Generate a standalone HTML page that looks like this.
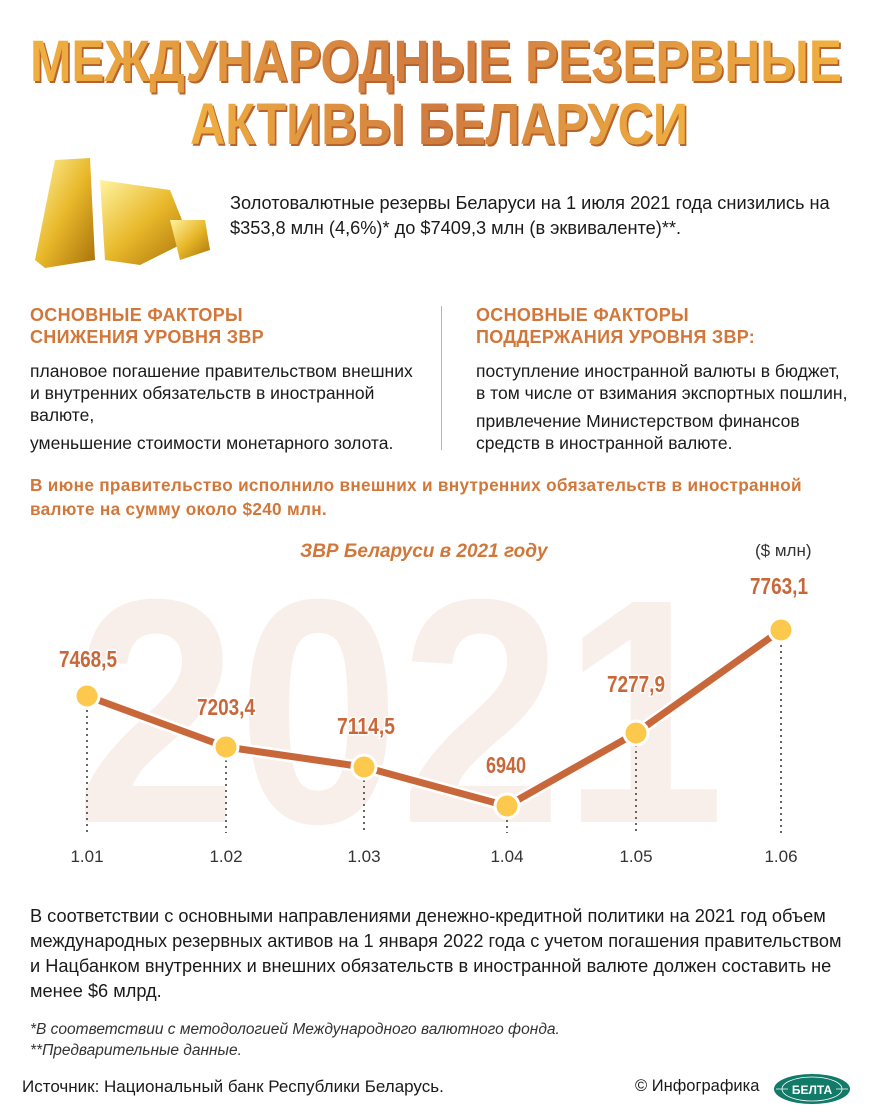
<!DOCTYPE html>
<html><head><meta charset="utf-8"><style>
*{margin:0;padding:0;box-sizing:border-box}
body{width:870px;height:1119px;background:#fff;position:relative;overflow:hidden;font-family:"Liberation Sans",sans-serif;color:#1a1a1a}
.a{position:absolute;white-space:nowrap}
.h{font-weight:bold;color:#d2773a;font-size:18px;line-height:22px;letter-spacing:0.3px}
.t{font-size:17.5px;line-height:22px}
</style></head><body>
<svg class="a" style="left:0;top:20px" width="870" height="130">
<defs><linearGradient id="tg" x1="0" y1="0" x2="1" y2="0"><stop offset="0" stop-color="#f0b040"/><stop offset=".5" stop-color="#d07a40"/><stop offset="1" stop-color="#f0b040"/></linearGradient></defs>
<g font-family="Liberation Sans,sans-serif" font-weight="bold" font-size="58" fill="url(#tg)">
<text x="30" y="61" textLength="812" lengthAdjust="spacingAndGlyphs" style="text-shadow:2px 2px 0 #b8632e">МЕЖДУНАРОДНЫЕ РЕЗЕРВНЫЕ</text>
<text x="190" y="124" textLength="498" lengthAdjust="spacingAndGlyphs" style="text-shadow:2px 2px 0 #b8632e">АКТИВЫ БЕЛАРУСИ</text>
</g>
</svg>

<svg class="a" style="left:20px;top:150px" width="200" height="125">
<defs><linearGradient id="g" x1="0" y1="0" x2="1" y2="1"><stop offset="0" stop-color="#fff3a0"/><stop offset=".5" stop-color="#e8b82a"/><stop offset="1" stop-color="#a8700a"/></linearGradient></defs>
<polygon points="35,10 70,8 75,110 25,118 15,110" fill="url(#g)"/>
<polygon points="80,30 150,40 170,90 120,115 85,110" fill="url(#g)"/>
<polygon points="150,70 185,70 190,100 160,110" fill="url(#g)"/>
</svg>
<div class="a t" style="left:230px;top:191px;font-size:18.2px;line-height:25px">Золотовалютные резервы Беларуси на 1 июля 2021 года снизились на<br>$353,8 млн (4,6%)* до $7409,3 млн (в эквиваленте)**.</div>

<div class="a h" style="left:30px;top:304px">ОСНОВНЫЕ ФАКТОРЫ<br>СНИЖЕНИЯ УРОВНЯ ЗВР</div>
<div class="a h" style="left:476px;top:304px">ОСНОВНЫЕ ФАКТОРЫ<br>ПОДДЕРЖАНИЯ УРОВНЯ ЗВР:</div>
<div class="a" style="left:441px;top:306px;width:1px;height:144px;background:#e2a97c"></div>
<div class="a t" style="left:30px;top:360px">плановое погашение правительством внешних<br>и внутренних обязательств в иностранной<br>валюте,</div>
<div class="a t" style="left:30px;top:432px">уменьшение стоимости монетарного золота.</div>
<div class="a t" style="left:476px;top:360px">поступление иностранной валюты в бюджет,<br>в том числе от взимания экспортных пошлин,</div>
<div class="a t" style="left:476px;top:410px">привлечение Министерством финансов<br>средств в иностранной валюте.</div>

<div class="a h" style="left:30px;top:473px;font-size:17.2px;line-height:24px">В июне правительство исполнило внешних и внутренних обязательств в иностранной<br>валюте на сумму около $240 млн.</div>

<div class="a" style="left:300px;top:541px;font-weight:bold;font-style:italic;font-size:19px;color:#d2773a">ЗВР Беларуси в 2021 году</div>
<div class="a" style="left:755px;top:541px;font-size:17px;color:#333">($ млн)</div>

<svg class="a" style="left:0;top:560px" width="870" height="320">
<text x="400" y="262" text-anchor="middle" font-family="Liberation Sans,sans-serif" font-weight="bold" font-size="320" fill="#f8efea" textLength="650" lengthAdjust="spacingAndGlyphs">2021</text>
<g stroke="#666" stroke-width="2" stroke-dasharray="2,4">
<line x1="87" y1="150" x2="87" y2="273"/><line x1="226" y1="200" x2="226" y2="273"/><line x1="364" y1="220" x2="364" y2="273"/><line x1="507" y1="260" x2="507" y2="273"/><line x1="636" y1="185" x2="636" y2="273"/><line x1="781" y1="85" x2="781" y2="273"/>
</g>
<polyline points="87,136 226,187 364,207 507,246 636,173 781,70" fill="none" stroke="#fff" stroke-width="12"/>
<polyline points="87,136 226,187 364,207 507,246 636,173 781,70" fill="none" stroke="#c8683a" stroke-width="7"/>
<g fill="#fcc94d" stroke="#fff" stroke-width="3">
<circle cx="87" cy="136" r="12"/><circle cx="226" cy="187" r="12"/><circle cx="364" cy="207" r="12"/><circle cx="507" cy="246" r="12"/><circle cx="636" cy="173" r="12"/><circle cx="781" cy="70" r="12"/>
</g>
<g font-family="Liberation Sans,sans-serif" font-weight="bold" font-size="23" fill="#c8683a" text-anchor="middle" stroke="#fff" stroke-width="3" paint-order="stroke">
<text x="88" y="107" textLength="58" lengthAdjust="spacingAndGlyphs">7468,5</text>
<text x="226" y="155" textLength="58" lengthAdjust="spacingAndGlyphs">7203,4</text>
<text x="366" y="174" textLength="58" lengthAdjust="spacingAndGlyphs">7114,5</text>
<text x="506" y="213" textLength="40" lengthAdjust="spacingAndGlyphs">6940</text>
<text x="636" y="132" textLength="58" lengthAdjust="spacingAndGlyphs">7277,9</text>
<text x="779" y="34" textLength="58" lengthAdjust="spacingAndGlyphs">7763,1</text>
</g>
<g font-size="17" fill="#333" text-anchor="middle">
<text x="87" y="302">1.01</text><text x="226" y="302">1.02</text><text x="364" y="302">1.03</text><text x="507" y="302">1.04</text><text x="636" y="302">1.05</text><text x="781" y="302">1.06</text>
</g>
</svg>

<div class="a t" style="left:30px;top:904px;font-size:18.2px;line-height:25px">В соответствии с основными направлениями денежно-кредитной политики на 2021 год объем<br>международных резервных активов на 1 января 2022 года с учетом погашения правительством<br>и Нацбанком внутренних и внешних обязательств в иностранной валюте должен составить не<br>менее $6 млрд.</div>
<div class="a" style="left:30px;top:1019px;font-size:15.5px;line-height:21px;font-style:italic;color:#333">*В соответствии с методологией Международного валютного фонда.<br>**Предварительные данные.</div>
<div class="a" style="left:22px;top:1077px;font-size:17px">Источник: Национальный банк Республики Беларусь.</div>
<div class="a" style="left:635px;top:1077px;font-size:16.5px">© Инфографика</div>
<svg class="a" style="left:772px;top:1072px" width="80" height="34">
<ellipse cx="40" cy="17" rx="38" ry="15" fill="#127a68"/>
<ellipse cx="40" cy="17" rx="30" ry="12" fill="none" stroke="#fff" stroke-width="0.8"/>
<line x1="4" y1="17" x2="76" y2="17" stroke="#fff" stroke-width="0.8"/>
<rect x="16" y="10" width="48" height="14" fill="#127a68"/>
<text x="40" y="22" text-anchor="middle" font-weight="bold" font-size="12" fill="#fff">БЕЛТА</text>
</svg>
</body></html>
